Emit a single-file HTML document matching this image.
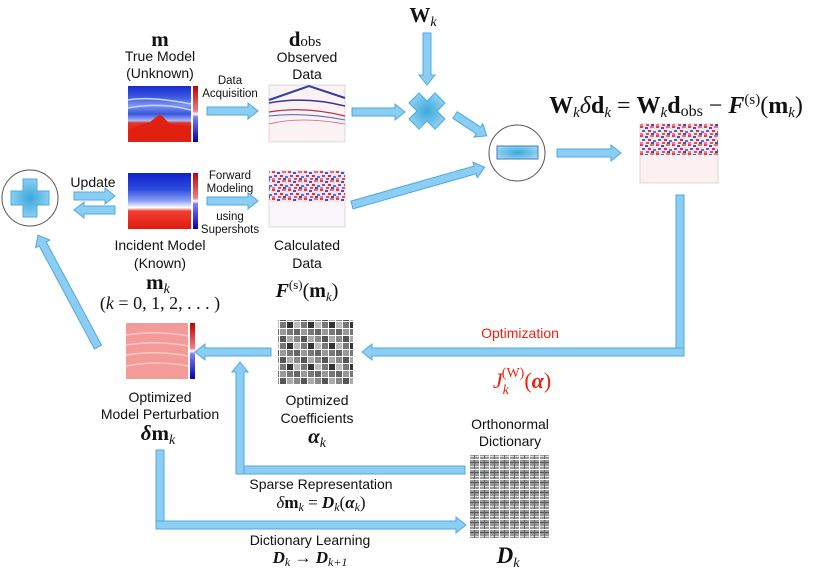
<!DOCTYPE html>
<html><head><meta charset="utf-8"><style>
html,body{margin:0;padding:0;background:#fff;}
svg{display:block;}
.s{font-family:"Liberation Sans",sans-serif;font-size:14px;fill:#111;text-anchor:middle;}
.sm{font-family:"Liberation Sans",sans-serif;font-size:11.5px;fill:#111;text-anchor:middle;}
.m{font-family:"Liberation Serif",serif;fill:#111;text-anchor:middle;}
.b{font-weight:bold;}
.i{font-style:italic;}
.ar{fill:#8ccdf3;stroke:#4fa8de;stroke-width:1;}
</style></head><body>
<svg width="830" height="572" viewBox="0 0 830 572" xmlns="http://www.w3.org/2000/svg">
<defs>
<linearGradient id="tm" x1="0" y1="0" x2="0" y2="1">
<stop offset="0" stop-color="#1a2ad0"/><stop offset="0.2" stop-color="#3c5ae0"/><stop offset="0.35" stop-color="#7f95f0"/><stop offset="0.5" stop-color="#3656e0"/><stop offset="0.62" stop-color="#aab8f4"/><stop offset="0.66" stop-color="#e83020"/><stop offset="1" stop-color="#d81a10"/>
</linearGradient>
<linearGradient id="im" x1="0" y1="0" x2="0" y2="1">
<stop offset="0" stop-color="#1020c8"/><stop offset="0.3" stop-color="#2e4ee0"/><stop offset="0.5" stop-color="#8ea2f2"/><stop offset="0.62" stop-color="#fff"/><stop offset="0.68" stop-color="#f04030"/><stop offset="1" stop-color="#e01a10"/>
</linearGradient>
<linearGradient id="cb" x1="0" y1="0" x2="0" y2="1">
<stop offset="0" stop-color="#c00000"/><stop offset="0.45" stop-color="#f08080"/><stop offset="0.5" stop-color="#fff"/><stop offset="0.55" stop-color="#8080f0"/><stop offset="1" stop-color="#0000b0"/>
</linearGradient>
<radialGradient id="gl" cx="0.5" cy="0.5" r="0.6"><stop offset="0" stop-color="#3aa8dc"/><stop offset="1" stop-color="#9ad6f6"/></radialGradient>
<pattern id="noise" width="16" height="9" patternUnits="userSpaceOnUse">
<rect width="16" height="9" fill="#f4e6f0"/>
<rect x="0" y="0" width="3" height="2" fill="#e04040"/><rect x="5" y="1" width="3" height="2" fill="#4050d0"/><rect x="10" y="0" width="4" height="2" fill="#f07070"/>
<rect x="2" y="4" width="3" height="2" fill="#5060e0"/><rect x="8" y="4" width="3" height="2" fill="#e03030"/><rect x="13" y="5" width="3" height="2" fill="#6070e0"/>
<rect x="0" y="7" width="3" height="2" fill="#f08080"/><rect x="6" y="7" width="3" height="2" fill="#e05050"/><rect x="11" y="7" width="3" height="2" fill="#4050c0"/>
</pattern>
<pattern id="coef" width="21" height="21" patternUnits="userSpaceOnUse">
<rect width="21" height="21" fill="#fff"/>
<rect x="0" y="0" width="6" height="6" fill="#888"/><rect x="7" y="0" width="6" height="6" fill="#555"/><rect x="14" y="0" width="6" height="6" fill="#aaa"/>
<rect x="0" y="7" width="6" height="6" fill="#bbb"/><rect x="7" y="7" width="6" height="6" fill="#777"/><rect x="14" y="7" width="6" height="6" fill="#333"/>
<rect x="0" y="14" width="6" height="6" fill="#666"/><rect x="7" y="14" width="6" height="6" fill="#999"/><rect x="14" y="14" width="6" height="6" fill="#777"/>
</pattern>
<pattern id="dict" width="10" height="10" patternUnits="userSpaceOnUse">
<rect width="10" height="10" fill="#fff"/>
<rect x="0" y="0" width="9" height="9" fill="#9a9a9a"/>
<rect x="0" y="2" width="9" height="1" fill="#555"/><rect x="0" y="6" width="9" height="1" fill="#ddd"/><rect x="4" y="0" width="1" height="9" fill="#666"/>
</pattern>
<g id="x"><polygon points="-8,-18 0,-10 8,-18 18,-8 10,0 18,8 8,18 0,10 -8,18 -18,8 -10,0 -18,-8" fill="url(#gl)" stroke="#4fa8de"/></g>
</defs>

<text class="m b" x="160" y="46" font-size="21">m</text>
<text class="s" x="160" y="61">True Model</text>
<text class="s" x="160" y="78">(Unknown)</text>
<text class="m b" x="305" y="46" font-size="21">d<tspan font-weight="normal" font-size="15">obs</tspan></text>
<text class="s" x="307" y="62">Observed</text>
<text class="s" x="307" y="79">Data</text>
<text class="m b" x="423" y="22" font-size="21">W<tspan font-weight="normal" font-style="italic" font-size="14" dy="4">k</tspan></text>

<rect x="128" y="86" width="63" height="56" fill="url(#tm)"/>
<polygon points="128,130 150,122 160,114 170,124 191,126 191,142 128,142" fill="#e02010"/>
<path d="M128,100 Q150,96 191,104 M128,108 Q160,102 191,110" stroke="#c8d4fa" stroke-width="1.5" fill="none"/>
<rect x="193" y="86" width="5" height="56" fill="url(#cb)"/>

<text class="sm" x="230" y="84">Data</text>
<text class="sm" x="230" y="97">Acquisition</text>

<rect x="269" y="85" width="76" height="57" fill="#fbf2f4" stroke="#bbb" stroke-width="0.5"/>
<path d="M269,100 L309,86 L345,98" stroke="#3040a0" stroke-width="2" fill="none"/>
<path d="M269,103 Q305,96 345,106" stroke="#4030a0" stroke-width="1.5" fill="none"/>
<path d="M269,112 Q305,106 345,116" stroke="#b03050" stroke-width="1.2" fill="none"/>
<path d="M269,116 Q305,112 345,120" stroke="#5060c0" stroke-width="1" fill="none"/>
<path d="M269,124 Q300,116 345,124" stroke="#d06080" stroke-width="0.8" fill="none"/>

<rect x="128" y="173" width="63" height="56" fill="url(#im)"/>
<rect x="193" y="173" width="5" height="56" fill="url(#cb)"/>
<text class="sm" x="230" y="179">Forward</text>
<text class="sm" x="230" y="192">Modeling</text>
<text class="sm" x="230" y="220">using</text>
<text class="sm" x="230" y="233">Supershots</text>

<rect x="269" y="171" width="76" height="56" fill="#faf6fb" stroke="#bbb" stroke-width="0.5"/>
<rect x="269" y="171" width="76" height="31" fill="url(#noise)"/>

<text class="s" x="160" y="250" font-size="15">Incident Model</text>
<text class="s" x="160" y="268" font-size="15">(Known)</text>
<text class="m b" x="158" y="289" font-size="21">m<tspan font-weight="normal" font-style="italic" font-size="14" dy="4">k</tspan></text>
<text class="m" x="160" y="309" font-size="18">(<tspan font-style="italic">k</tspan> = 0, 1, 2, . . . )</text>
<text class="s" x="307" y="250" font-size="15">Calculated</text>
<text class="s" x="307" y="268" font-size="15">Data</text>
<text class="m" x="307" y="297" font-size="20"><tspan font-weight="bold" font-style="italic">F</tspan><tspan font-size="13" dy="-8">(s)</tspan><tspan dy="8">(</tspan><tspan font-weight="bold">m</tspan><tspan font-style="italic" font-size="13" dy="4">k</tspan><tspan dy="-4">)</tspan></text>

<circle cx="30" cy="198" r="28" fill="#fff" stroke="#555"/>
<polygon points="23,179 37,179 37,191 49,191 49,205 37,205 37,217 23,217 23,205 11,205 11,191 23,191" fill="url(#gl)" stroke="#4fa8de"/>
<text class="s" x="93" y="187" font-size="15">Update</text>

<use href="#x" x="427" y="111"/>

<circle cx="517" cy="153" r="28" fill="#fff" stroke="#555"/>
<rect x="497" y="146" width="41" height="13" fill="url(#gl)" stroke="#4a7ab0"/>

<text class="m" x="676" y="113" font-size="24"><tspan font-weight="bold">W</tspan><tspan font-style="italic" font-size="15" dy="4">k</tspan><tspan dy="-4" font-style="italic">δ</tspan><tspan font-weight="bold">d</tspan><tspan font-style="italic" font-size="15" dy="4">k</tspan><tspan dy="-4"> = </tspan><tspan font-weight="bold">W</tspan><tspan font-style="italic" font-size="15" dy="4">k</tspan><tspan dy="-4" font-weight="bold">d</tspan><tspan font-size="16" dy="3">obs</tspan><tspan dy="-3"> − </tspan><tspan font-weight="bold" font-style="italic">F</tspan><tspan font-size="15" dy="-9">(s)</tspan><tspan dy="9">(</tspan><tspan font-weight="bold">m</tspan><tspan font-style="italic" font-size="15" dy="4">k</tspan><tspan dy="-4">)</tspan></text>

<rect x="640" y="124" width="78" height="59" fill="#fdf0f0" stroke="#bbb" stroke-width="0.5"/>
<rect x="640" y="124" width="78" height="31" fill="url(#noise)"/>

<text class="s" x="520" y="338" style="fill:#f02010" font-size="15">Optimization</text>
<text class="m" x="522" y="388" font-size="22" style="fill:#f02010"><tspan font-style="italic">J</tspan><tspan font-style="italic" font-size="14" dy="6">k</tspan><tspan font-size="14" dy="-17" dx="-7">(W)</tspan><tspan dy="11">(</tspan><tspan font-weight="bold" font-style="italic">α</tspan>)</text>

<rect x="126" y="323" width="62" height="56" fill="#f49a98"/>
<path d="M126,335 Q157,330 188,336 M126,345 Q157,340 188,346 M126,355 Q157,350 188,356 M126,366 Q157,360 188,366" stroke="#fbc8c6" stroke-width="1.5" fill="none"/>
<rect x="190" y="323" width="5" height="56" fill="url(#cb)"/>
<text class="s" x="160" y="402" font-size="15">Optimized</text>
<text class="s" x="160" y="419" font-size="15">Model Perturbation</text>
<text class="m b" x="158" y="440" font-size="21"><tspan font-style="italic">δ</tspan>m<tspan font-weight="normal" font-style="italic" font-size="14" dy="4">k</tspan></text>

<rect x="278" y="320" width="75" height="64" fill="url(#coef)"/>
<text class="s" x="317" y="405" font-size="15">Optimized</text>
<text class="s" x="317" y="423" font-size="15">Coefficients</text>
<text class="m b" x="317" y="443" font-size="21"><tspan font-style="italic">α</tspan><tspan font-weight="normal" font-style="italic" font-size="14" dy="4">k</tspan></text>

<text class="s" x="510" y="429" font-size="15">Orthonormal</text>
<text class="s" x="510" y="446" font-size="15">Dictionary</text>
<rect x="470" y="455" width="80" height="83" fill="url(#dict)"/>
<text class="m b" x="508" y="563" font-size="23"><tspan font-style="italic">D</tspan><tspan font-weight="normal" font-style="italic" font-size="14" dy="4">k</tspan></text>

<text class="s" x="321" y="489" font-size="15">Sparse Representation</text>
<text class="m" x="321" y="508" font-size="17"><tspan font-style="italic">δ</tspan><tspan font-weight="bold">m</tspan><tspan font-style="italic" font-size="12" dy="3">k</tspan><tspan dy="-3"> = </tspan><tspan font-weight="bold" font-style="italic">D</tspan><tspan font-style="italic" font-size="12" dy="3">k</tspan><tspan dy="-3">(</tspan><tspan font-weight="bold" font-style="italic">α</tspan><tspan font-style="italic" font-size="12" dy="3">k</tspan><tspan dy="-3">)</tspan></text>
<text class="s" x="310" y="545" font-size="15">Dictionary Learning</text>
<text class="m" x="310" y="563" font-size="17"><tspan font-weight="bold" font-style="italic">D</tspan><tspan font-style="italic" font-size="12" dy="3">k</tspan><tspan dy="-3"> → </tspan><tspan font-weight="bold" font-style="italic">D</tspan><tspan font-style="italic" font-size="12" dy="3">k+1</tspan></text>

<g class="ar">
<polygon transform="translate(207,111)" points="0,-4 41,-4 41,-8 51,0 41,8 41,4 0,4"/>
<polygon transform="translate(352,112)" points="0,-4 43,-4 43,-8 53,0 43,8 43,4 0,4"/>
<polygon transform="translate(427,33) rotate(90)" points="0,-4 42,-4 42,-8 52,0 42,8 42,4 0,4"/>
<polygon transform="translate(455,115) rotate(33.3)" points="0,-4 28,-4 28,-8 38,0 28,8 28,4 0,4"/>
<polygon transform="translate(352,205) rotate(-15.9)" points="0,-4 128,-4 128,-8 138,0 128,8 128,4 0,4"/>
<polygon transform="translate(557,153)" points="0,-4 54,-4 54,-8 64,0 54,8 54,4 0,4"/>
<polygon transform="translate(207,201)" points="0,-4 41,-4 41,-8 51,0 41,8 41,4 0,4"/>
<polygon transform="translate(74,196)" points="0,-4 31,-4 31,-8 41,0 31,8 31,4 0,4"/>
<polygon transform="translate(115,210) rotate(180)" points="0,-4 31,-4 31,-8 41,0 31,8 31,4 0,4"/>
<polygon transform="translate(98,347) rotate(-118.2)" points="0,-4 117,-4 117,-8 127,0 117,8 117,4 0,4"/>
<polygon points="676,195 684,195 684,356 676,356"/>
<polygon transform="translate(684,352) rotate(180)" points="0,-4 312,-4 312,-8 322,0 312,8 312,4 0,4"/>
<polygon transform="translate(271,352) rotate(180)" points="0,-4 66,-4 66,-8 76,0 66,8 66,4 0,4"/>
<polygon points="236,466 465,466 465,474 236,474"/>
<polygon transform="translate(240,474) rotate(-90)" points="0,-4 102,-4 102,-8 112,0 102,8 102,4 0,4"/>
<polygon points="156,450 164,450 164,529 156,529"/>
<polygon transform="translate(156,525)" points="0,-4 300,-4 300,-8 310,0 300,8 300,4 0,4"/>
</g>
</svg>
</body></html>
